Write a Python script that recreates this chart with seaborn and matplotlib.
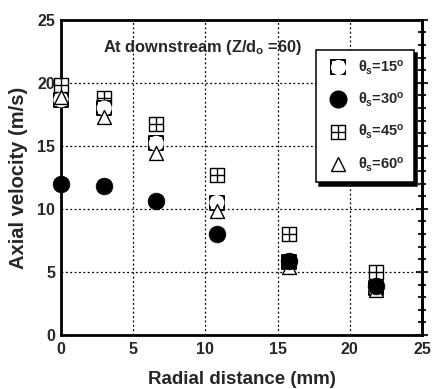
import numpy as np
import pandas as pd
import matplotlib
matplotlib.use("Agg")
import matplotlib.pyplot as plt
import seaborn as sns
from matplotlib.path import Path
from matplotlib.lines import Line2D
from matplotlib.legend_handler import HandlerTuple
from matplotlib.ticker import MultipleLocator, NullFormatter

radial = [0, 3, 6.6, 10.8, 15.8, 21.8]
v15 = [18.65, 18.0, 15.2, 10.5, 5.8, 3.7]
v30 = [12.0, 11.8, 10.6, 8.0, 5.9, 3.9]
v45 = [19.8, 18.8, 16.7, 12.7, 8.0, 5.0]
v60 = [18.9, 17.3, 14.4, 9.8, 5.4, 3.6]
labels = [r"$\theta_{s}$=15$^{o}$", r"$\theta_{s}$=30$^{o}$",
          r"$\theta_{s}$=45$^{o}$", r"$\theta_{s}$=60$^{o}$"]

sns.set_style("white")
plt.rcParams["font.family"] = ["Liberation Sans", "DejaVu Sans"]
plt.rcParams["font.weight"] = "bold"
plt.rcParams["mathtext.fontset"] = "custom"
plt.rcParams["mathtext.rm"] = "Liberation Sans:bold"
plt.rcParams["mathtext.it"] = "Liberation Sans:bold"
plt.rcParams["mathtext.bf"] = "Liberation Sans:bold"
plt.rcParams["mathtext.sf"] = "Liberation Sans:bold"

df = pd.DataFrame({"r": radial, "v15": v15, "v30": v30, "v45": v45, "v60": v60})

# square with cross marker
verts = [(-1, -1), (1, -1), (1, 1), (-1, 1), (-1, -1),
         (0, -1), (0, 1), (-1, 0), (1, 0)]
codes = [Path.MOVETO, Path.LINETO, Path.LINETO, Path.LINETO, Path.CLOSEPOLY,
         Path.MOVETO, Path.LINETO, Path.MOVETO, Path.LINETO]
boxplus = Path(verts, codes)

fig = plt.figure(figsize=(4.32, 3.89), dpi=100)
ax = fig.add_axes([0.141, 0.139, 0.836, 0.810])

ax.grid(True, which="major", color="black", linestyle=(0, (1.5, 2)), linewidth=0.9)
ax.set_axisbelow(True)

sns.scatterplot(data=df, x="r", y="v45", marker=boxplus, s=115, facecolor="white",
                edgecolor="black", linewidth=1.0, ax=ax, zorder=3, clip_on=False)
sns.scatterplot(data=df, x="r", y="v15", marker="s", s=100, facecolor="white",
                edgecolor="black", linewidth=1.4, ax=ax, zorder=4, clip_on=False)
sns.scatterplot(data=df, x="r", y="v15", marker="o", s=118, facecolor="white",
                edgecolor="none", linewidth=0, ax=ax, zorder=5, clip_on=False)
sns.scatterplot(data=df, x="r", y="v60", marker="^", s=100, facecolor="white",
                edgecolor="black", linewidth=1.0, ax=ax, zorder=6, clip_on=False)
sns.scatterplot(data=df, x="r", y="v30", marker="o", s=145, facecolor="black",
                edgecolor="black", linewidth=0.5, ax=ax, zorder=7, clip_on=False)

ax.set_xlim(0, 25)
ax.set_ylim(0, 25)
ax.xaxis.set_major_locator(MultipleLocator(5))
ax.yaxis.set_major_locator(MultipleLocator(5))
ax.xaxis.set_minor_locator(MultipleLocator(1))
ax.yaxis.set_minor_locator(MultipleLocator(1))
ax.tick_params(which="both", direction="in", top=False, right=False, width=1.5,
               labelsize=11.5)
ax.tick_params(axis="x", which="both", pad=5)
ax.tick_params(axis="y", which="both", pad=4)
ax.tick_params(which="major", length=6)
ax.tick_params(which="minor", length=4)
for lab in ax.get_xticklabels() + ax.get_yticklabels():
    lab.set_fontweight("bold")
for sp in ax.spines.values():
    sp.set_linewidth(2)
    sp.set_color("black")

# right-side ticks crossing the spine
ax2 = ax.secondary_yaxis("right")
ax2.yaxis.set_major_locator(MultipleLocator(5))
ax2.yaxis.set_minor_locator(MultipleLocator(1))
ax2.yaxis.set_major_formatter(NullFormatter())
ax2.tick_params(which="both", direction="inout", width=1.5)
ax2.tick_params(which="major", length=8)
ax2.tick_params(which="minor", length=6)
ax2.spines["right"].set_linewidth(2)

ax.set_xlabel("Radial distance (mm)", fontsize=13.5, fontweight="bold", labelpad=10)
ax.set_ylabel("Axial velocity (m/s)", fontsize=14.5, fontweight="bold", labelpad=7)

ax.text(0.116, 0.912, r"At downstream (Z/d$_{o}$ =60)", transform=ax.transAxes,
        fontsize=11.8, fontweight="bold", ha="left", va="center")

h15 = (Line2D([], [], marker="s", markersize=10, markerfacecolor="white",
              markeredgecolor="black", markeredgewidth=1.4, linestyle="none"),
       Line2D([], [], marker="o", markersize=10.9, markerfacecolor="white",
              markeredgecolor="none", linestyle="none"))
h30 = Line2D([], [], marker="o", markersize=12, markerfacecolor="black",
             markeredgecolor="black", linestyle="none")
h45 = Line2D([], [], marker=boxplus, markersize=10.7, markerfacecolor="white",
             markeredgecolor="black", markeredgewidth=1.0, linestyle="none")
h60 = Line2D([], [], marker="^", markersize=10, markerfacecolor="white",
             markeredgecolor="black", markeredgewidth=1.0, linestyle="none")

leg = ax.legend([h15, h30, h45, h60], labels,
                handler_map={tuple: HandlerTuple(ndivide=1, pad=0)},
                loc="upper left", bbox_to_anchor=(0.706, 0.905), frameon=True,
                fancybox=False, shadow={"ox": 2.5, "oy": -2.5, "facecolor": "black",
                                        "edgecolor": "black", "alpha": 1},
                fontsize=10.5, labelspacing=0.95, handlelength=1.9,
                handletextpad=0.4, borderpad=0.6, borderaxespad=0)
leg.get_frame().set_edgecolor("black")
leg.get_frame().set_linewidth(1.1)
leg.set_zorder(10)

fig.savefig("out.png", dpi=100)
